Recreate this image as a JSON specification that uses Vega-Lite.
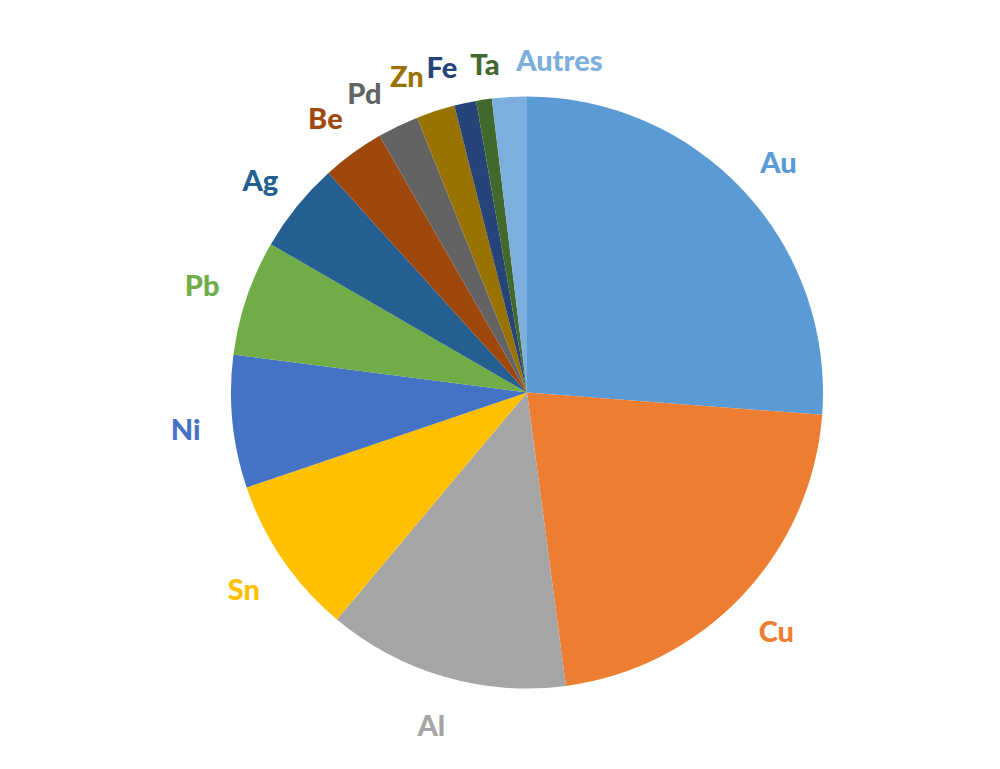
{
  "$schema": "https://vega.github.io/schema/vega-lite/v6.json",
  "width": 1000,
  "height": 769,
  "autosize": {"type": "fit", "contains": "padding"},
  "padding": {"left": 54, "top": 16, "right": 0, "bottom": 0},
  "background": "white",
  "config": {"view": {"stroke": null}},
  "data": {
    "values": [
      {"idx": 1, "metal": "Au", "value": 26.2},
      {"idx": 2, "metal": "Cu", "value": 21.7},
      {"idx": 3, "metal": "Al", "value": 13.2},
      {"idx": 4, "metal": "Sn", "value": 8.7},
      {"idx": 5, "metal": "Ni", "value": 7.25},
      {"idx": 6, "metal": "Pb", "value": 6.3},
      {"idx": 7, "metal": "Ag", "value": 4.95},
      {"idx": 8, "metal": "Be", "value": 3.4},
      {"idx": 9, "metal": "Pd", "value": 2.25},
      {"idx": 10, "metal": "Zn", "value": 2.1},
      {"idx": 11, "metal": "Fe", "value": 1.2},
      {"idx": 12, "metal": "Ta", "value": 0.85},
      {"idx": 13, "metal": "Autres", "value": 1.9}
    ]
  },
  "encoding": {
    "theta": {"field": "value", "type": "quantitative", "stack": true},
    "order": {"field": "idx", "type": "quantitative"},
    "color": {
      "field": "metal",
      "type": "nominal",
      "legend": null,
      "scale": {
        "domain": ["Au", "Cu", "Al", "Sn", "Ni", "Pb", "Ag", "Be", "Pd", "Zn", "Fe", "Ta", "Autres"],
        "range": ["#5B9BD5", "#ED7D31", "#A5A5A5", "#FFC000", "#4472C4", "#70AD47", "#255E91", "#9E480E", "#636363", "#997300", "#264478", "#43682B", "#7CAFDD"]
      }
    }
  },
  "layer": [
    {
      "mark": {"type": "arc", "outerRadius": 296, "stroke": null}
    },
    {
      "mark": {"type": "text", "radius": 343, "dy": 5, "font": "Lato", "fontWeight": 900, "fontSize": 29, "align": "center", "baseline": "middle"},
      "encoding": {"text": {"condition": {"test": "datum.idx <= 8", "field": "metal"}, "value": ""}}
    },
    {
      "mark": {"type": "text", "radius": 334, "dy": 3, "font": "Lato", "fontWeight": 900, "fontSize": 29, "align": "right", "baseline": "middle"},
      "encoding": {"text": {"condition": {"test": "datum.idx >= 9 && datum.idx <= 11", "field": "metal"}, "value": ""}}
    },
    {
      "mark": {"type": "text", "radius": 330, "dx": 6, "font": "Lato", "fontWeight": 900, "fontSize": 29, "align": "center", "baseline": "middle"},
      "encoding": {"text": {"condition": {"test": "datum.idx == 12", "field": "metal"}, "value": ""}}
    },
    {
      "mark": {"type": "text", "radius": 333, "dx": 9, "dy": 2, "font": "Lato", "fontWeight": 900, "fontSize": 29, "align": "left", "baseline": "middle"},
      "encoding": {"text": {"condition": {"test": "datum.idx == 13", "field": "metal"}, "value": ""}}
    }
  ]
}
